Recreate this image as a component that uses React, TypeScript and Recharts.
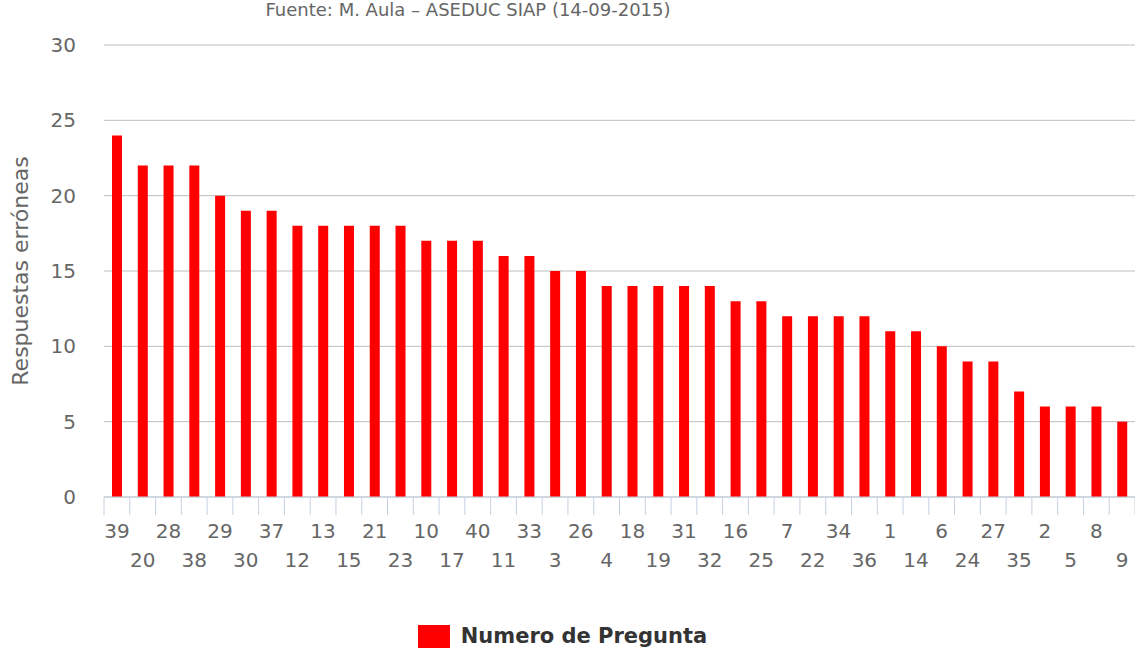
import { BarChart, Bar, XAxis, YAxis, CartesianGrid, Legend } from 'recharts';

const preguntas = [
  '39', '20', '28', '38', '29', '30', '37', '12', '13', '15',
  '21', '23', '10', '17', '40', '11', '33', '3', '26', '4',
  '18', '19', '31', '32', '16', '25', '7', '22', '34', '36',
  '1', '14', '6', '24', '27', '35', '2', '5', '8', '9',
];
const respuestas = [
  24, 22, 22, 22, 20, 19, 19, 18, 18, 18,
  18, 18, 17, 17, 17, 16, 16, 15, 15, 14,
  14, 14, 14, 14, 13, 13, 12, 12, 12, 12,
  11, 11, 10, 9, 9, 7, 6, 6, 6, 5,
];
const yTicks = [0, 5, 10, 15, 20, 25, 30];

const data = preguntas.map((p, i) => ({ pregunta: p, respuestas: respuestas[i] }));

const W = 1135;
const H = 655;
const Y_AXIS_W = 104;
const STEP = (W - Y_AXIS_W) / preguntas.length;
const FONT = '"DejaVu Sans", Verdana, sans-serif';
const TICK_COLOR = '#c4d0e0';

function XTick(props: any) {
  const { x, y, payload, index } = props;
  const i = index ?? payload?.index ?? 0;
  const row = i % 2;
  const left = x - STEP / 2;
  return (
    <g>
      <line x1={left} x2={left} y1={y} y2={y + 18} stroke={TICK_COLOR} strokeWidth={1} />
      {i === preguntas.length - 1 && (
        <line x1={left + STEP} x2={left + STEP} y1={y} y2={y + 18} stroke={TICK_COLOR} strokeWidth={1} />
      )}
      <text
        x={x}
        y={y + 41 + row * 29}
        textAnchor="middle"
        fill="#666"
        fontSize={20}
        fontFamily={FONT}
      >
        {payload.value}
      </text>
    </g>
  );
}

function LegendBox() {
  return (
    <div
      style={{
        display: 'flex',
        justifyContent: 'center',
        alignItems: 'center',
        paddingTop: 37,
        paddingRight: 10,
        fontFamily: FONT,
      }}
    >
      <span style={{ width: 32, height: 23, background: '#f00', display: 'inline-block' }} />
      <span style={{ marginLeft: 11, fontWeight: 'bold', fontSize: 21, color: '#333' }}>
        Numero de Pregunta
      </span>
    </div>
  );
}

export default function App() {
  return (
    <div style={{ position: 'absolute', left: 0, top: 0, width: W, height: H, background: '#fff', fontFamily: FONT }}>
      <svg style={{ position: 'absolute', left: 0, top: 0 }} width={W} height={30}>
        <text x={468} y={16} textAnchor="middle" fill="#666" fontSize={18} fontFamily={FONT}>
          Fuente: M. Aula – ASEDUC SIAP (14-09-2015)
        </text>
      </svg>
      <BarChart
        width={W}
        height={H}
        data={data}
        margin={{ top: 45, right: 0, left: 0, bottom: 0 }}
        barCategoryGap={0}
      >
        <CartesianGrid vertical={false} stroke="#bdbdbd" />
        <XAxis
          dataKey="pregunta"
          interval={0}
          height={90}
          tickSize={0}
          tickMargin={0}
          tickLine={false}
          axisLine={{ stroke: TICK_COLOR }}
          tick={<XTick />}
        />
        <YAxis
          width={Y_AXIS_W}
          domain={[0, 30]}
          ticks={yTicks}
          tickSize={0}
          tickMargin={28}
          tickLine={false}
          axisLine={false}
          tick={{ fill: '#666', fontSize: 20, fontFamily: FONT }}
          label={{
            value: 'Respuestas erróneas',
            angle: -90,
            position: 'insideLeft',
            offset: 20,
            style: { textAnchor: 'middle', fill: '#666', fontSize: 22, fontFamily: FONT },
          }}
        />
        <Legend verticalAlign="bottom" height={68} content={<LegendBox />} />
        <Bar dataKey="respuestas" fill="#f00" barSize={10} isAnimationActive={false} />
      </BarChart>
    </div>
  );
}
